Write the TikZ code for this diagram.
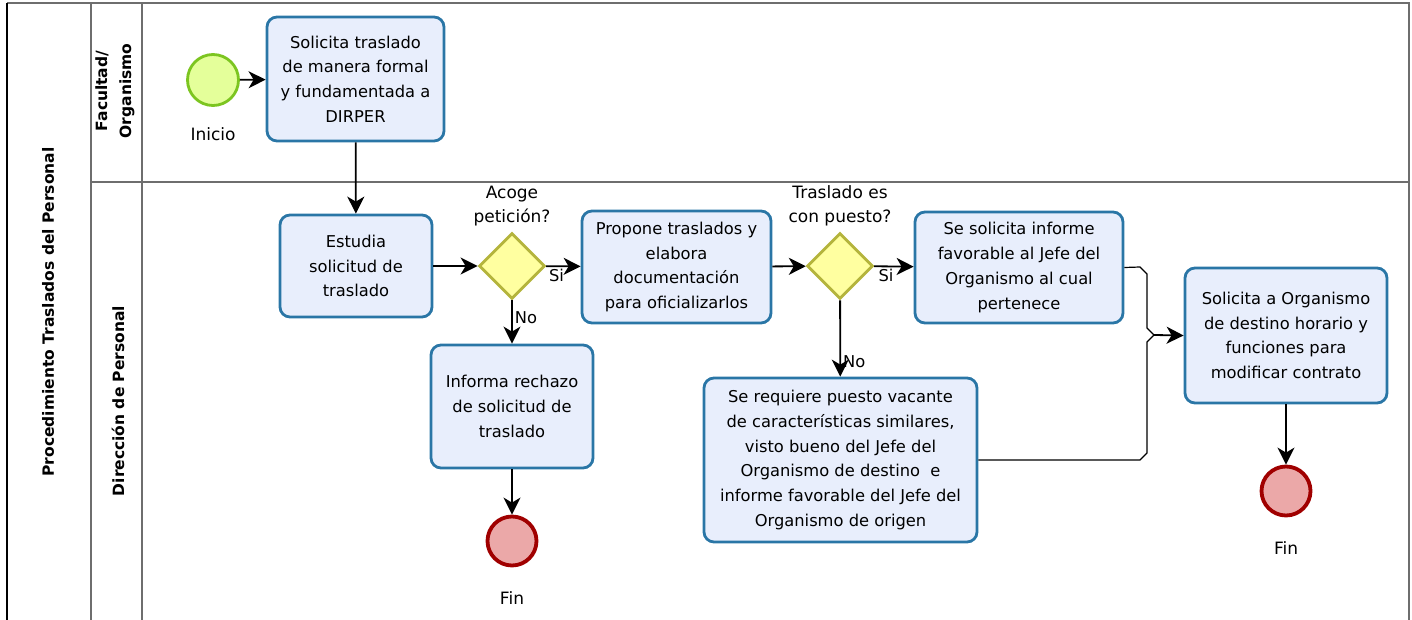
\documentclass[tikz,border=0pt]{standalone}
\usepackage{fontspec}
\setmainfont{DejaVu Sans}
\usetikzlibrary{arrows.meta,shapes.geometric}
\definecolor{taskfill}{HTML}{E8EEFC}
\definecolor{taskline}{HTML}{2A76A6}
\definecolor{gatefill}{HTML}{FFFFA0}
\definecolor{gateline}{HTML}{B4B43C}
\definecolor{startfill}{HTML}{E4FF9A}
\definecolor{startline}{HTML}{7CC520}
\definecolor{endfill}{HTML}{EBA8A8}
\definecolor{endline}{HTML}{A00000}
\definecolor{lanegray}{HTML}{6E6E6E}

\begin{document}
\begin{tikzpicture}[x=1pt, y=-1pt, font=\fontsize{16.3}{24.7}\selectfont,
	task/.style={draw=taskline, line width=2.8pt, fill=taskfill, rounded corners=10pt, align=center, inner sep=0pt},
	gate/.style={diamond, draw=gateline, line width=2.8pt, fill=gatefill, minimum width=66pt, minimum height=66pt, inner sep=0pt},
	startev/.style={circle, draw=startline, line width=2.8pt, fill=startfill, minimum size=51pt, inner sep=0pt},
	endev/.style={circle, draw=endline, line width=3.8pt, fill=endfill, minimum size=49pt, inner sep=0pt},
	evlabel/.style={font=\fontsize{17}{24.5}\selectfont, align=center},
	flow/.style={line width=1.8pt, -{Stealth[length=17pt,width=17pt,inset=5pt]}},
	lane/.style={draw=lanegray, line width=1.5pt}]
	\useasboundingbox (0,0) rectangle (1412,620);
	% pool and lanes
	\draw[lane] (1409,620) -- (1409,3) -- (7,3);
	\draw[line width=2pt] (7,3) -- (7,620);
	\draw[lane] (91,3) -- (91,620);
	\draw[lane] (142,3) -- (142,620);
	\draw[lane] (91,182) -- (1409,182);
	\node[rotate=90, font=\bfseries\fontsize{15.5}{18}\selectfont] (pool) at (48,312) {Procedimiento Traslados del Personal};
	\node[rotate=90, align=center, font=\bfseries\fontsize{15.5}{24}\selectfont] (lanefac) at (115,91) {Facultad/\\Organismo};
	\node[rotate=90, font=\bfseries\fontsize{15.5}{18}\selectfont] (laneper) at (118,401) {Dirección de Personal};

	% events
	\node[startev] (inicio) at (213,80) {};
	\node[evlabel] (inicioL) at (213,134) {Inicio};
	\node[endev] (fin1) at (512,541) {};
	\node[evlabel] (fin1L) at (512,598) {Fin};
	\node[endev] (fin2) at (1286,491) {};
	\node[evlabel] (fin2L) at (1286,548) {Fin};

	% tasks
	\node[task, minimum width=177pt, minimum height=124pt] (solicita) at (355.5,79) {Solicita traslado\\de manera formal\\y fundamentada a\\DIRPER};
	\node[task, minimum width=152pt, minimum height=102pt] (estudia) at (356,266) {Estudia\\solicitud de\\traslado};
	\node[task, minimum width=189pt, minimum height=112pt] (propone) at (676.5,267) {Propone traslados y\\elabora\\documentación\\para oficializarlos};
	\node[task, minimum width=162pt, minimum height=123pt] (rechazo) at (512,406.5) {Informa rechazo\\de solicitud de\\traslado};
	\node[task, minimum width=208pt, minimum height=111pt] (informe) at (1019,267.5) {Se solicita informe\\favorable al Jefe del\\Organismo al cual\\pertenece};
	\node[task, minimum width=273pt, minimum height=164pt] (vacante) at (840.5,460) {Se requiere puesto vacante\\de características similares,\\visto bueno del Jefe del\\Organismo de destino~ e\\informe favorable del Jefe del\\Organismo de origen};
	\node[task, minimum width=202pt, minimum height=135pt] (contrato) at (1286,335.5) {Solicita a Organismo\\de destino horario y\\funciones para\\modificar contrato};

	% gateways
	\node[gate] (acoge) at (512,266) {};
	\node[evlabel] (acogeL) at (512,206) {Acoge\\petición?};
	\node[gate] (conpuesto) at (840,266) {};
	\node[evlabel] (conpuestoL) at (840,206) {Traslado es\\con puesto?};

	% flows
	\draw[flow] (inicio) -- (solicita);
	\draw[flow] (solicita) -- (estudia);
	\draw[flow] (estudia) -- (acoge);
	\draw[flow] (acoge) -- node[below, pos=0.3, inner sep=2pt] (si1) {Si} (propone);
	\draw[flow] (acoge) -- node[right, pos=0.4, inner sep=2pt] (no1) {No} (rechazo);
	\draw[flow] (rechazo) -- (fin1);
	\draw[flow] (propone) -- (conpuesto);
	\draw[flow] (conpuesto) -- node[below, pos=0.3, inner sep=2pt] (si2) {Si} (informe);
	\draw[flow] (conpuesto) -- node[right, pos=0.8, inner sep=2pt] (no2) {No} (vacante);
	\coordinate (merge) at (1154,335);
	\draw[line width=1.2pt] (informe.east) -- (1140,267) -- (1147,274) -- (1147,328) -- (merge);
	\draw[line width=1.2pt] (vacante.east) -- (1140,460) -- (1147,453) -- (1147,342) -- (merge);
	\draw[flow] (merge) -- (contrato.west);
	\draw[flow] (contrato) -- (fin2);
\end{tikzpicture}
\end{document}
